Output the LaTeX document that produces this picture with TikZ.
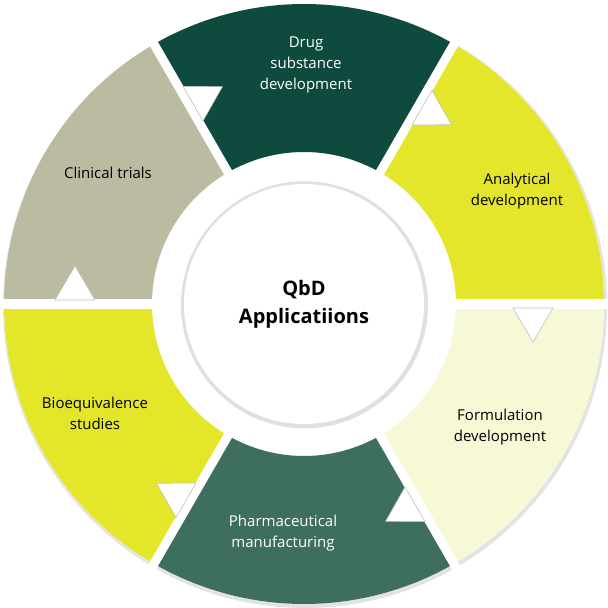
\documentclass[tikz,border=0pt]{standalone}
\usepackage{fontspec}
\setmainfont{Open Sans}
\usetikzlibrary{calc}
\definecolor{cDrug}{HTML}{0E4A3D}
\definecolor{cAna}{HTML}{E3E62B}
\definecolor{cForm}{HTML}{F7F8D6}
\definecolor{cPharma}{HTML}{3E6E5F}
\definecolor{cBio}{HTML}{E4E62A}
\definecolor{cClin}{HTML}{BABBA1}
\definecolor{cShadow}{HTML}{C8C8C8}
\tikzset{
  lbl/.style={align=center,font=\fontsize{15}{21}\selectfont},
  notch/.style={fill=white,draw=black!25,line width=0.6pt},
}
\newcommand{\ringsector}[3]{%
  \fill[#3] (#1:300) arc[start angle=#1,end angle=#2,radius=300] -- (#2:152) arc[start angle=#2,end angle=#1,radius=152] -- cycle;}
\newcommand{\notchat}[1]{%
  \begin{scope}[shift={(#1:229)},rotate=#1]
    \fill[notch] (-20,-4) -- (0,-38) -- (20,-4) -- cycle;
  \end{scope}}
\begin{document}
\begin{tikzpicture}[x=1pt,y=1pt]
\useasboundingbox (-304,-304) rectangle (304,304);
\fill[cShadow!50] (1,-2) circle (302);
\fill[white] (0,0) circle (300);
\ringsector{60}{120}{cDrug}
\ringsector{0}{60}{cAna}
\ringsector{-60}{0}{cForm}
\ringsector{-120}{-60}{cPharma}
\ringsector{180}{240}{cBio}
\ringsector{120}{180}{cClin}
\foreach \a in {0,60,120,180,240,300}
  \draw[white,line width=9pt] (\a:100) -- (\a:310);
\notchat{0}\notchat{60}\notchat{120}\notchat{180}\notchat{240}\notchat{300}
\fill[white] (0,0) circle (150);
\fill[black!30] (1,-1.5) circle (122);
\fill[black!12] (0.5,-0.8) circle (123.5);
\node[circle,fill=white,minimum size=240pt,inner sep=0pt] (c) at (0,0) {};
\node[align=center,font=\bfseries\fontsize{20}{28}\selectfont] (t) at (c) {QbD\\Applicatiions};
\node[lbl,text=white] (d) at (2,239) {Drug\\substance\\development};
\node[lbl,text=black] (a) at (213,113) {Analytical\\development};
\node[lbl,text=black] (f) at (196,-123) {Formulation\\development};
\node[lbl,text=white] (p) at (-21,-229) {Pharmaceutical\\manufacturing};
\node[lbl,text=black] (b) at (-209,-109) {Bioequivalence\\studies};
\node[lbl,text=black] (k) at (-196,131) {Clinical trials};
\end{tikzpicture}
\end{document}
